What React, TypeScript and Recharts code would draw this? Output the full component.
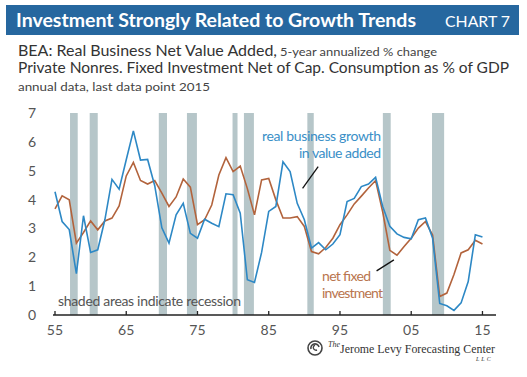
import React from 'react';
import { LineChart, Line, XAxis, YAxis, ReferenceArea, ReferenceLine } from 'recharts';

const years = [
  1955, 1956, 1957, 1958, 1959, 1960, 1961, 1962, 1963, 1964,
  1965, 1966, 1967, 1968, 1969, 1970, 1971, 1972, 1973, 1974,
  1975, 1976, 1977, 1978, 1979, 1980, 1981, 1982, 1983, 1984,
  1985, 1986, 1987, 1988, 1989, 1990, 1991, 1992, 1993, 1994,
  1995, 1996, 1997, 1998, 1999, 2000, 2001, 2002, 2003, 2004,
  2005, 2006, 2007, 2008, 2009, 2010, 2011, 2012, 2013, 2014, 2015,
];

// Real business net value added, 5-year annualized % change
const growth = [
  4.27, 3.24, 2.96, 1.43, 3.44, 2.17, 2.26, 3.30, 4.70, 4.36,
  5.38, 6.38, 5.37, 5.39, 4.48, 3.02, 2.49, 3.47, 3.87, 2.83,
  2.66, 3.32, 3.18, 3.06, 4.20, 4.17, 3.53, 1.22, 1.13, 2.17,
  3.59, 3.76, 5.31, 4.97, 3.87, 3.30, 2.32, 2.51, 2.26, 2.46,
  2.78, 3.93, 4.04, 4.45, 4.54, 4.77, 3.76, 3.07, 2.81, 2.69,
  2.64, 3.30, 3.36, 2.66, 0.40, 0.32, 0.16, 0.42, 1.16, 2.78, 2.70,
];

// Private nonres. fixed investment net of capital consumption, % of GDP
const investment = [
  3.68, 4.13, 3.99, 2.49, 2.86, 3.26, 2.95, 3.26, 3.36, 3.78,
  4.82, 5.29, 4.66, 4.54, 4.66, 4.22, 3.76, 4.09, 4.71, 4.43,
  3.13, 3.30, 3.81, 4.85, 5.45, 4.97, 5.16, 4.38, 3.47, 4.68,
  4.73, 3.99, 3.36, 3.36, 3.41, 3.07, 2.20, 2.12, 2.34, 2.66,
  3.13, 3.47, 3.85, 4.12, 4.40, 4.66, 3.57, 2.24, 2.07, 2.37,
  2.66, 3.01, 3.24, 2.77, 0.64, 0.76, 1.40, 2.15, 2.26, 2.59, 2.46,
];

const recessions: [number, number][] = [
  [1957.11, 1958.19],
  [1959.87, 1961.0],
  [1969.57, 1970.72],
  [1973.52, 1974.92],
  [1979.92, 1980.62],
  [1981.52, 1982.92],
  [1990.42, 1991.32],
  [2001.02, 2002.12],
  [2007.92, 2009.62],
];

const xTicks = [1955, 1965, 1975, 1985, 1995, 2005, 2015];
const yTicks = [0, 1, 2, 3, 4, 5, 6, 7];

const rows = years.map((year, i) => ({ year, growth: growth[i], investment: investment[i] }));

const FONT = 'Lato, "Open Sans", sans-serif';
const SERIF = "'Liberation Serif', 'DejaVu Serif', serif";
const BLUE = '#2d88c5';
const BROWN = '#b2633c';

const XTick = (props: any) => {
  const { x, y, payload } = props;
  const v = payload.value as number;
  const label = String(v % 100).padStart(2, '0');
  return (
    <g>
      <line x1={x} x2={x} y1={y - 4} y2={y} stroke="#222" strokeWidth={1.3} />
      <text x={x} y={y + 20} textAnchor="middle" fill="#555" fontSize={14} fontFamily={FONT}>
        {label}
      </text>
    </g>
  );
};

export default function App() {
  return (
    <div style={{ position: 'absolute', left: 0, top: 0, width: 527, height: 377, background: '#fff', fontFamily: FONT }}>
      <div style={{ position: 'absolute', left: 0, top: 0 }}>
        <LineChart width={527} height={377} data={rows} margin={{ top: 113, right: 31, bottom: 32, left: 0 }}>
          {recessions.map(([a, b], i) => (
            <ReferenceArea key={i} x1={a} x2={b} y1={0} y2={7} fill="#b6c6c9" fillOpacity={1} stroke="none" ifOverflow="hidden" />
          ))}
          <XAxis
            dataKey="year"
            type="number"
            domain={[1954.72, 2016.9]}
            ticks={xTicks}
            allowDataOverflow
            height={30}
            axisLine={{ stroke: '#222', strokeWidth: 1.5 }}
            tickLine={false}
            tickSize={0}
            tickMargin={0}
            tick={<XTick />}
            interval={0}
          />
          <YAxis
            type="number"
            domain={[0, 7]}
            ticks={yTicks}
            width={53}
            axisLine={false}
            tickLine={false}
            tickSize={0}
            tickMargin={17}
            interval={0}
            tick={{ fill: '#555', fontSize: 14, fontFamily: FONT }}
          />
          <Line type="linear" dataKey="investment" stroke={BROWN} strokeWidth={1.6} dot={false} isAnimationActive={false} />
          <Line type="linear" dataKey="growth" stroke={BLUE} strokeWidth={1.6} dot={false} isAnimationActive={false} />
          <ReferenceLine segment={[{ x: 1991.94, y: 5.14 }, { x: 1989.75, y: 4.39 }]} stroke="#111" strokeWidth={1.3} ifOverflow="visible" />
          <ReferenceLine segment={[{ x: 2000.14, y: 1.53 }, { x: 2002.57, y: 1.91 }]} stroke="#111" strokeWidth={1.3} ifOverflow="visible" />
        </LineChart>
      </div>
      <svg width={527} height={377} style={{ position: 'absolute', left: 0, top: 0, pointerEvents: 'none' }} fontFamily={FONT}>
        <rect x={6} y={5} width={513} height={30} fill="#26679f" />
        <text x={16} y={27} fill="#fff" fontSize={19} fontWeight="bold" textLength={400} lengthAdjust="spacingAndGlyphs">
          Investment Strongly Related to Growth Trends
        </text>
        <text x={445} y={27} fill="#fff" fontSize={16} textLength={65} lengthAdjust="spacingAndGlyphs">
          CHART 7
        </text>
        <text x={18} y={56} fill="#333" fontSize={15} textLength={259} lengthAdjust="spacingAndGlyphs">
          BEA: Real Business Net Value Added,
        </text>
        <text x={280} y={56} fill="#444" fontSize={12} textLength={157} lengthAdjust="spacingAndGlyphs">
          5-year annualized  % change
        </text>
        <text x={18} y={73} fill="#333" fontSize={15} textLength={491} lengthAdjust="spacingAndGlyphs">
          Private Nonres. Fixed Investment Net of Cap. Consumption as % of GDP
        </text>
        <text x={18} y={91} fill="#444" fontSize={12} textLength={192} lengthAdjust="spacingAndGlyphs">
          annual data, last data point 2015
        </text>

        <text x={262} y={141} fill="#3a8fc7" fontSize={14} textLength={119} lengthAdjust="spacing">
          real business growth
        </text>
        <text x={299} y={158} fill="#3a8fc7" fontSize={14} textLength={82} lengthAdjust="spacing">
          in value added
        </text>
        <text x={322} y={281} fill="#b9754e" fontSize={14} textLength={49} lengthAdjust="spacing">
          net fixed
        </text>
        <text x={322} y={298} fill="#b9754e" fontSize={14} textLength={61} lengthAdjust="spacing">
          investment
        </text>
        <text x={58} y={306} fill="#555" fontSize={14} textLength={183} lengthAdjust="spacing">
          shaded areas indicate recession
        </text>

        <g>
          <circle cx={315} cy={348} r={7} fill="none" stroke="#444" strokeWidth={1.6} />
          <path d="M 311 349 A 4 4 0 1 1 319 347" fill="none" stroke="#444" strokeWidth={1.6} />
          <path d="M 315 345 A 2.5 2.5 0 1 0 317 350" fill="none" stroke="#444" strokeWidth={1.4} />
        </g>
        <text x={328} y={347} fill="#333" fontSize={8} fontStyle="italic" fontFamily={SERIF}>
          The
        </text>
        <text x={340} y={353} fill="#333" fontSize={13} fontFamily={SERIF} textLength={155} lengthAdjust="spacingAndGlyphs">
          Jerome Levy Forecasting Center
        </text>
        <text x={476} y={361} fill="#333" fontSize={6} fontStyle="italic" fontFamily={SERIF} letterSpacing={2}>
          LLC
        </text>
      </svg>
    </div>
  );
}
